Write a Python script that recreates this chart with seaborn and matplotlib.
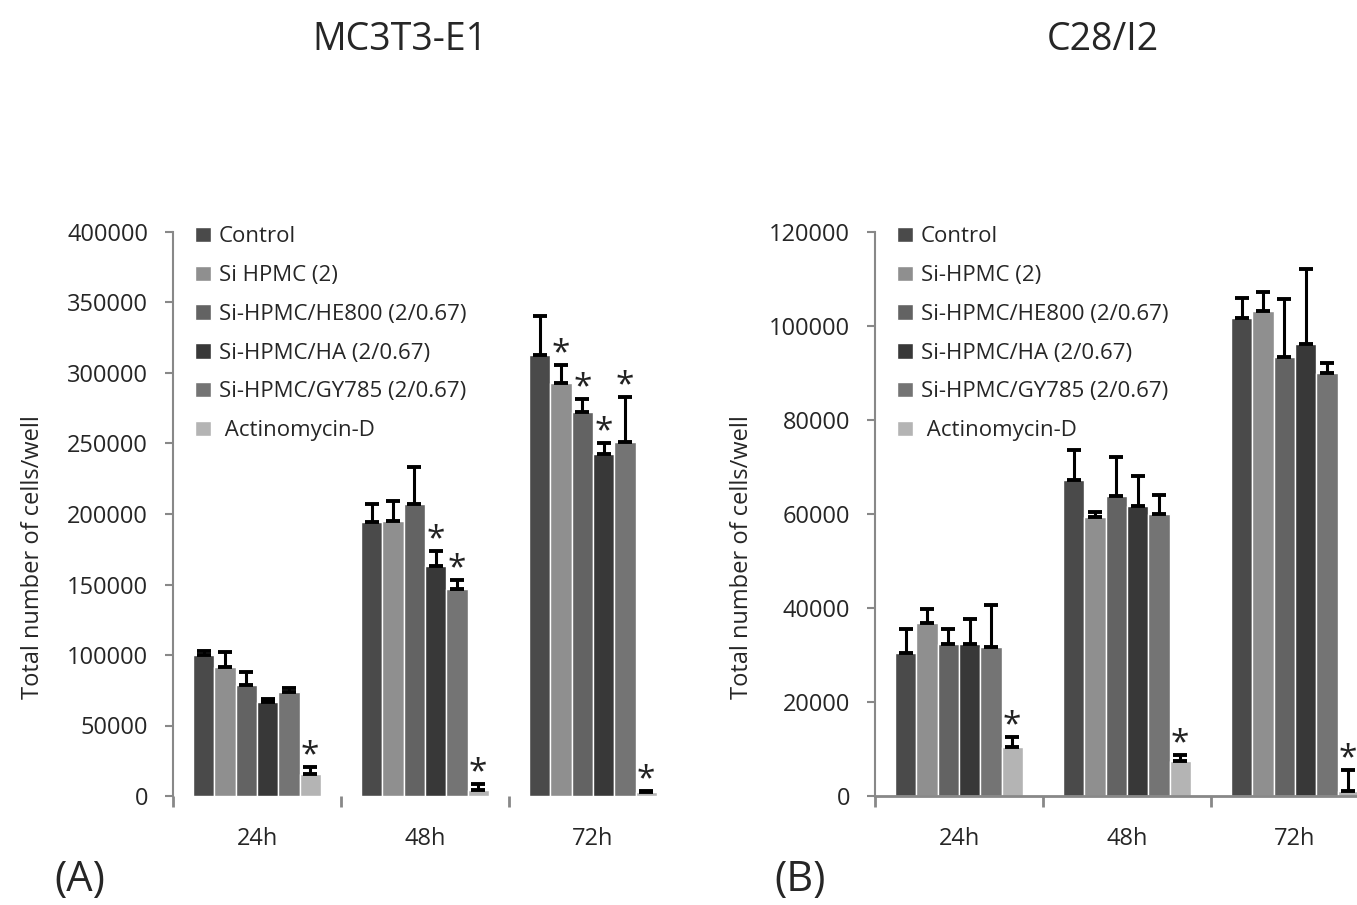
import numpy as np
import pandas as pd
import seaborn as sns
import matplotlib
matplotlib.use('Agg')
import matplotlib.pyplot as plt

# categories
times = ['24h', '48h', '72h']
groups = ['Control', 'Si-HPMC (2)', 'Si-HPMC/HE800 (2/0.67)', 'Si-HPMC/HA (2/0.67)',
          'Si-HPMC/GY785 (2/0.67)', 'Actinomycin-D']
labels_a = ['Control', 'Si HPMC (2)', 'Si-HPMC/HE800 (2/0.67)', 'Si-HPMC/HA (2/0.67)',
            'Si-HPMC/GY785 (2/0.67)', ' Actinomycin-D']
labels_b = ['Control', 'Si-HPMC (2)', 'Si-HPMC/HE800 (2/0.67)', 'Si-HPMC/HA (2/0.67)',
            'Si-HPMC/GY785 (2/0.67)', ' Actinomycin-D']
colors = ['#4a4a4a', '#8f8f8f', '#636363', '#383838', '#747474', '#b4b4b4']

# MC3T3-E1 (panel A), one row per time point
mc3t3_mean = [[100000, 91800, 79000, 66800, 74100, 15800],
              [194000, 195000, 207000, 163000, 146600, 4100],
              [312800, 293200, 272500, 242800, 251200, 2700]]
mc3t3_err = [[3000, 10400, 8700, 1900, 2200, 4600],
             [13000, 14000, 26500, 10600, 6400, 4600],
             [27800, 12500, 8900, 7900, 31600, 800]]
mc3t3_sig = [[5], [3, 4, 5], [1, 2, 3, 4, 5]]

# C28/I2 (panel B)
c28_mean = [[30400, 36900, 32300, 32300, 31700, 10400],
            [67200, 59300, 63800, 61800, 60000, 7500],
            [101600, 103100, 93300, 96100, 90100, 1100]]
c28_err = [[5200, 2900, 3300, 5300, 9000, 2100],
           [6400, 1100, 8300, 6200, 4100, 1300],
           [4300, 4100, 12400, 16000, 2000, 4500]]
c28_sig = [[5], [5], [5]]

sns.set_style('white')
plt.rcParams['font.family'] = ['Open Sans', 'DejaVu Sans']

W, H = 1357, 905
fig = plt.figure(figsize=(W / 100, H / 100), dpi=100)


def draw_panel(ax, means, errs, sig, ymax, ystep, labels, show_bottom):
    rows = []
    for ti, t in enumerate(times):
        for gi, g in enumerate(groups):
            rows.append({'time': t, 'group': g, 'cells': means[ti][gi]})
    df = pd.DataFrame(rows)
    sns.barplot(data=df, x='time', y='cells', hue='group', order=times, hue_order=groups,
                palette=colors, saturation=1, width=0.76, errorbar=None, ax=ax)

    # upper error bars + significance stars
    bar_conts = list(ax.containers)
    for gi, cont in enumerate(bar_conts):
        for ti, bar in enumerate(cont.patches):
            x = bar.get_x() + bar.get_width() / 2
            h = bar.get_height()
            e = errs[ti][gi]
            ax.errorbar(x, h, yerr=[[0], [e]], fmt='none', ecolor='black',
                        elinewidth=2.2, capsize=5, capthick=2.8)
            if gi in sig[ti]:
                ax.annotate('*', (x, h + e), xytext=(0, -4), textcoords='offset points',
                            ha='center', va='bottom', fontsize=24, color='#222222')

    handles, _ = ax.get_legend_handles_labels()
    ax.legend(handles[:len(groups)], labels, loc='upper left', bbox_to_anchor=(0.044, 1.01),
              frameon=False, fontsize=16, handlelength=0.7, handleheight=0.7,
              handletextpad=0.35, labelspacing=0.8, borderaxespad=0, borderpad=0)

    ax.set_ylim(0, ymax)
    ax.set_yticks(np.arange(0, ymax + 1, ystep))
    ax.set_xlim(-0.5, 2.5)
    ax.set_xticks([0, 1, 2])
    ax.set_xticks([-0.5, 0.5, 1.5], minor=True)
    ax.set_xlabel('')
    ax.set_ylabel('')
    ax.tick_params(axis='y', direction='out', length=6, width=1.5, color='#888888',
                   pad=12, labelsize=17, left=True)
    ax.tick_params(axis='x', which='major', length=0, pad=22, labelsize=17)
    ax.tick_params(axis='x', which='minor', direction='out', length=8, width=2,
                   color='#888888', bottom=True)
    for s in ['top', 'right']:
        ax.spines[s].set_visible(False)
    ax.spines['left'].set_color('#888888')
    ax.spines['left'].set_linewidth(1.5)
    ax.spines['bottom'].set_color('#888888')
    ax.spines['bottom'].set_linewidth(2)
    ax.spines['bottom'].set_visible(show_bottom)


bottom = 1 - 796 / H
height = (796 - 232) / H
width = 504 / W

ax_a = fig.add_axes([173 / W, bottom, width, height])
draw_panel(ax_a, mc3t3_mean, mc3t3_err, mc3t3_sig, 400000, 50000, labels_a, False)

ax_b = fig.add_axes([875 / W, bottom, width, height])
draw_panel(ax_b, c28_mean, c28_err, c28_sig, 120000, 20000, labels_b, True)

fig.text(400 / W, 1 - 40 / H, 'MC3T3-E1', ha='center', va='center', fontsize=27)
fig.text(1103 / W, 1 - 40 / H, 'C28/I2', ha='center', va='center', fontsize=27)
fig.text(33 / W, 1 - 557 / H, 'Total number of cells/well', rotation=90,
         ha='center', va='center', fontsize=17)
fig.text(742 / W, 1 - 557 / H, 'Total number of cells/well', rotation=90,
         ha='center', va='center', fontsize=17)
fig.text(80 / W, 1 - 880 / H, '(A)', ha='center', va='center', fontsize=30)
fig.text(800 / W, 1 - 880 / H, '(B)', ha='center', va='center', fontsize=30)

fig.savefig('out.png', dpi=100)
